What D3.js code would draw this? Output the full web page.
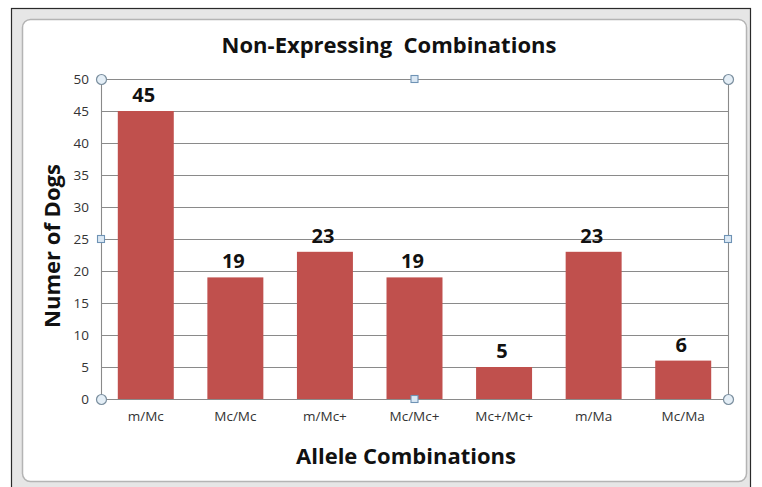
<!DOCTYPE html>
<html><head><meta charset="utf-8">
<script src="https://cdn.jsdelivr.net/npm/d3@7"></script>
<style>body{margin:0;background:#fff;}svg{display:block;}</style>
</head><body>
<script>
const categories = ["m/Mc","Mc/Mc","m/Mc+","Mc/Mc+","Mc+/Mc+","m/Ma","Mc/Ma"];
const values = [45,19,23,19,5,23,6];
const yTicks = [0,5,10,15,20,25,30,35,40,45,50];
const title = "Non-Expressing  Combinations";
const xTitle = "Allele Combinations";
const yTitle = "Numer of Dogs";

const W = 762, H = 487;
const svg = d3.select("body").append("svg").attr("width", W).attr("height", H);

// spreadsheet frame
svg.append("rect").attr("x",11.5).attr("y",8.5).attr("width",739).attr("height",485)
  .attr("fill","#e6e6e6").attr("stroke","#2a2a2a").attr("stroke-width",1.2);
svg.append("rect").attr("x",22.5).attr("y",19.5).attr("width",724).attr("height",462)
  .attr("rx",8).attr("fill","#fff").attr("stroke","#b4b4b4").attr("stroke-width",1.5);

const font = "'Open Sans', Lato, sans-serif";
const m = {left:101, right:728, top:79, bottom:399};
const x = d3.scaleBand().domain(categories).range([m.left, m.right]).paddingInner(0.375).paddingOuter(0.1875);
const y = d3.scaleLinear().domain([0,50]).range([m.bottom, m.top]);

// gridlines
svg.append("g").selectAll("line").data(yTicks).join("line")
  .attr("x1", m.left).attr("x2", m.right)
  .attr("y1", d=>Math.round(y(d))+0.5).attr("y2", d=>Math.round(y(d))+0.5)
  .attr("stroke","#8a8a8a").attr("stroke-width",1.1);
// vertical plot borders
svg.append("line").attr("x1",m.left+0.5).attr("x2",m.left+0.5).attr("y1",m.top).attr("y2",m.bottom).attr("stroke","#8a8a8a").attr("stroke-width",1.1);
svg.append("line").attr("x1",m.right+0.5).attr("x2",m.right+0.5).attr("y1",m.top).attr("y2",m.bottom).attr("stroke","#8a8a8a").attr("stroke-width",1.1);

// y axis
const yAxis = svg.append("g").attr("transform",`translate(${m.left},0)`)
  .call(d3.axisLeft(y).tickValues(yTicks).tickSize(0).tickPadding(12));
yAxis.select(".domain").remove();
yAxis.selectAll("text").attr("font-family",font).attr("font-size",13.5).attr("fill","#333");

// x axis
const xAxis = svg.append("g").attr("transform",`translate(0,${m.bottom})`)
  .call(d3.axisBottom(x).tickSize(0).tickPadding(12));
xAxis.select(".domain").remove();
xAxis.selectAll("text").attr("font-family",font).attr("font-size",13.5).attr("fill","#333");

// bars
svg.append("g").selectAll("rect").data(values).join("rect")
  .attr("x",(d,i)=>x(categories[i])).attr("width",x.bandwidth())
  .attr("y",d=>y(d)).attr("height",d=>y(0)-y(d))
  .attr("fill","#c0504d");

// labels
svg.append("g").selectAll("text").data(values).join("text")
  .attr("x",(d,i)=>x(categories[i])+x.bandwidth()/2-2).attr("y",d=>y(d)-9)
  .attr("text-anchor","middle").attr("font-family",font).attr("font-weight","bold")
  .attr("font-size",20).attr("fill","#111").text(d=>d);

// titles
svg.append("text").attr("x",389).attr("y",53).attr("text-anchor","middle")
  .attr("font-family",font).attr("font-weight","bold").attr("font-size",22).attr("fill","#111")
  .style("white-space","pre").text(title);
svg.append("text").attr("x",406).attr("y",464).attr("text-anchor","middle")
  .attr("font-family",font).attr("font-weight","bold").attr("font-size",22).attr("fill","#111").text(xTitle);
svg.append("text").attr("transform","translate(60,246) rotate(-90)").attr("text-anchor","middle")
  .attr("font-family",font).attr("font-weight","bold").attr("font-size",22).attr("fill","#111").text(yTitle);

// selection handles
const hc = [[m.left,m.top],[m.right,m.top],[m.left,m.bottom],[m.right,m.bottom]];
svg.append("g").selectAll("circle").data(hc).join("circle")
  .attr("cx",d=>d[0]+0.5).attr("cy",d=>d[1]+0.5).attr("r",5)
  .attr("fill","#e4eef6").attr("stroke","#7a8e9e").attr("stroke-width",1.2);
const hs = [[(m.left+m.right)/2,m.top],[(m.left+m.right)/2,m.bottom],[m.left,(m.top+m.bottom)/2],[m.right,(m.top+m.bottom)/2]];
svg.append("g").selectAll("rect").data(hs).join("rect")
  .attr("x",d=>d[0]-3.5).attr("y",d=>d[1]-3.5).attr("width",7).attr("height",7)
  .attr("fill","#dbe8f4").attr("stroke","#6f93b5").attr("stroke-width",1.1);
</script>
</body></html>
